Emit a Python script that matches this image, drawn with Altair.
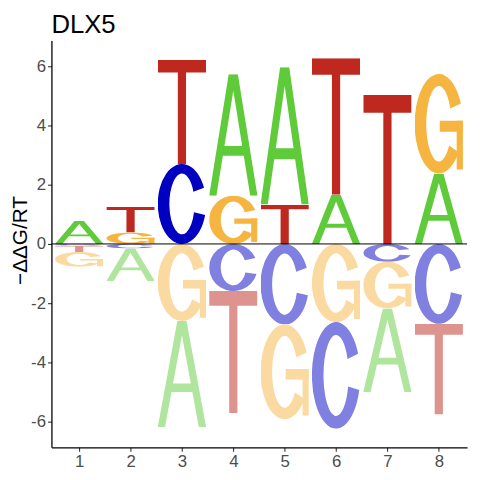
import base64
import altair as alt
import pandas as pd

# ---- data ----
positions = [1, 2, 3, 4, 5, 6, 7, 8]
A_vals = [0.78, -1.10, -3.58, 4.10, 4.64, 1.66, -2.82, 2.38]
C_vals = [-0.06, -0.15, 2.70, -1.59, -2.72, -3.60, -0.60, -2.70]
G_vals = [-0.50, 0.39, -2.60, 1.63, -3.20, -2.64, -1.58, 3.36]
T_vals = [-0.21, 0.86, 3.51, -4.13, 1.33, 4.61, 5.04, -3.06]
x_ticks = [1, 2, 3, 4, 5, 6, 7, 8]
y_ticks = [-6, -4, -2, 0, 2, 4, 6]
title_text = "DLX5"
y_title = "\u2212\u0394\u0394G/RT"

# ---- styles ----
FONT = "Liberation Sans"
COLORS = {"A": "#5FCB3A", "C": "#0000C0", "G": "#F5B540", "T": "#BE281E"}
HALF_W = 0.47

GLYPHS = {
    "A": ["M40.5,0 L59.5,0 L100,100 L85,100 L71.6,67 L28.4,67 L15,100 L0,100 Z "
          "M50,13.6 L68.4,59 L31.6,59 Z"],
    "C": ["M95.68,29.67 A50,50 0 1 0 98.06,63.78 L74.99,60.47 A26,38 0 1 1 73.75,34.55 Z"],
    "G": ["M95.68,29.67 A50,50 0 1 0 90.96,78.68 L71.30,71.80 A26,38 0 1 1 73.75,34.55 Z",
          "M52,47 H100 V58 H52 Z",
          "M87,47 H100 V96 H87 Z"],
    "T": ["M0,0 H100 V12 H58.5 V100 H41.5 V12 H0 Z"],
}


def lighten(hex_color, a=0.5):
    h = hex_color.lstrip("#")
    r, g, b = (int(h[i:i + 2], 16) for i in (0, 2, 4))
    mix = lambda c: round(c * a + 255 * (1 - a))
    return "#%02X%02X%02X" % (mix(r), mix(g), mix(b))


def glyph_url(letter, neg):
    color = lighten(COLORS[letter]) if neg else COLORS[letter]
    paths = "".join(
        f'<path d="{d}" fill="{color}" fill-rule="evenodd"/>' for d in GLYPHS[letter]
    )
    svg = ('<svg xmlns="http://www.w3.org/2000/svg" width="100" height="100" '
           'viewBox="0 0 100 100" preserveAspectRatio="none">' + paths + '</svg>')
    return "data:image/svg+xml;base64," + base64.b64encode(svg.encode()).decode()


vals = {"A": A_vals, "C": C_vals, "G": G_vals, "T": T_vals}
rows = []
for i, p in enumerate(positions):
    items = [(L, vals[L][i]) for L in "ACGT"]
    pos_items = sorted([it for it in items if it[1] > 0], key=lambda t: t[1])
    neg_items = sorted([it for it in items if it[1] < 0], key=lambda t: -t[1])
    base = 0.0
    for L, v in pos_items:
        rows.append(dict(x1=p - HALF_W, x2=p + HALF_W, y1=base, y2=base + v,
                         url=glyph_url(L, False)))
        base += v
    base = 0.0
    for L, v in neg_items:
        rows.append(dict(x1=p - HALF_W, x2=p + HALF_W, y1=base + v, y2=base,
                         url=glyph_url(L, True)))
        base += v

df = pd.DataFrame(rows)

xscale = alt.Scale(domain=[0.46, 8.55], nice=False, zero=False)
yscale = alt.Scale(domain=[-6.87, 6.87], nice=False, zero=False)

letters = alt.Chart(df).mark_image(aspect=False).encode(
    x=alt.X("x1:Q", scale=xscale,
            axis=alt.Axis(values=x_ticks, title=None, grid=False, labelExpr="'' + datum.value")),
    x2="x2:Q",
    y=alt.Y("y1:Q", scale=yscale,
            axis=alt.Axis(values=y_ticks, title=y_title, grid=False,
                          labelExpr="'' + datum.value",
                          titleX=-25, titleY=202, titleAngle=270,
                          titleBaseline="alphabetic", titleAlign="center",
                          titleFontSize=21, titleFont=FONT, titleFontWeight="normal",
                          titleColor="black")),
    y2="y2:Q",
    url="url:N",
)

zero = alt.Chart(pd.DataFrame({"z": [0]})).mark_rule(color="black", strokeWidth=1).encode(
    y=alt.Y("z:Q", scale=yscale)
)

chart = (
    alt.layer(letters, zero)
    .properties(
        width=421,
        height=412,
        padding={"left": 44, "top": 30, "right": 5, "bottom": 22},
        autosize=alt.AutoSizeParams(type="none"),
        title=alt.TitleParams(title_text, anchor="start", frame="group", fontSize=26,
                              font=FONT, fontWeight="normal", color="black",
                              offset=11, baseline="alphabetic", dy=29),
    )
    .configure_view(stroke=None)
    .configure_axis(
        labelFont=FONT, labelFontSize=17, labelColor="#4D4D4D", labelPadding=2,
        tickColor="#333333", tickSize=4, tickWidth=1.1,
        domainColor="black", domainWidth=1.3,
    )
)

chart.save("out.html", embed_options={"renderer": "svg", "actions": False})
